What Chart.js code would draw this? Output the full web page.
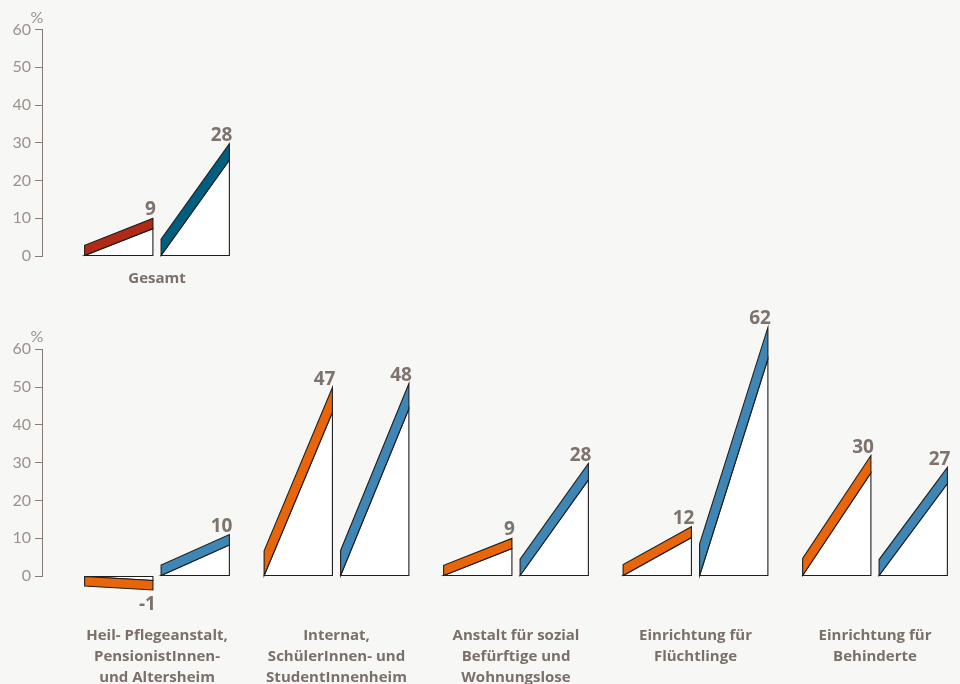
<!DOCTYPE html>
<html><head><meta charset="utf-8">
<script src="https://cdn.jsdelivr.net/npm/chart.js@4"></script>
<style>
html,body{margin:0;padding:0;background:#f7f7f5;overflow:hidden;width:960px;height:684px}
.box{position:absolute;left:0;width:960px}
</style></head><body>
<div class="box" style="top:0;height:300px"><canvas id="c1"></canvas></div>
<div class="box" style="top:300px;height:384px"><canvas id="c2"></canvas></div>
<script>
// ---- data ----
const topCategories = ['Gesamt'];
const topSeriesA = [9];
const topSeriesB = [28];

const categories = [
  ['Heil- Pflegeanstalt,', 'PensionistInnen-', 'und Altersheim'],
  ['Internat,', 'SchülerInnen- und', 'StudentInnenheim'],
  ['Anstalt für sozial', 'Befürftige und', 'Wohnungslose'],
  ['Einrichtung für', 'Flüchtlinge'],
  ['Einrichtung für', 'Behinderte']
];
const seriesA = [-1, 47, 9, 12, 30];
const seriesB = [10, 48, 28, 62, 27];
const yTicks = [0, 10, 20, 30, 40, 50, 60];
const unitLabel = '%';

// ---- styles ----
const FONT = 'Lato, "Open Sans", sans-serif';
const BFONT = '"Open Sans", Lato, sans-serif';
const BAND = 9.5;
const X_MIN = -0.6407, X_MAX = 4.4735;
const slotIdx = [0, 1, 2, 3, 4];

const wedgePlugin = {
  id: 'wedges',
  afterDatasetsDraw(chart) {
    const ctx = chart.ctx;
    ctx.save();
    ctx.lineJoin = 'miter';
    chart.data.datasets.forEach((ds, di) => {
      const meta = chart.getDatasetMeta(di);
      meta.data.forEach((el, i) => {
        const p = el.getProps(['x', 'width', 'base', 'y'], true);
        const w = p.width, L = p.x - w / 2, R = p.x + w / 2, base = p.base;
        const V = base - p.y;
        let h, s;
        if (V >= 0) {
          h = V;
          for (let k = 0; k < 10; k++) h = V - 1.5 - BAND / 2 * Math.sqrt(1 + (h / w) ** 2);
          s = 1;
        } else {
          h = V * 1.2;
          s = -1;
        }
        const d = BAND * Math.sqrt(1 + (h / w) ** 2);
        ctx.lineWidth = 1.1;
        ctx.strokeStyle = '#1e1e1e';
        // white triangle
        ctx.beginPath();
        ctx.moveTo(L, base); ctx.lineTo(R, base); ctx.lineTo(R, base - h); ctx.closePath();
        ctx.fillStyle = '#ffffff'; ctx.fill(); ctx.stroke();
        // colored band
        ctx.beginPath();
        ctx.moveTo(L, base); ctx.lineTo(R, base - h); ctx.lineTo(R, base - h - s * d); ctx.lineTo(L, base - s * d); ctx.closePath();
        ctx.fillStyle = ds.bandColor; ctx.fill(); ctx.stroke();
        // value label
        ctx.fillStyle = '#7d726c';
        ctx.font = 'bold 19px ' + BFONT;
        ctx.textAlign = 'right';
        ctx.textBaseline = 'alphabetic';
        const v = ds.data[i].y;
        if (s > 0) ctx.fillText(String(v), R + 3, base - h - d - 3);
        else ctx.fillText(String(v), R + 3, base - h + d + 20);
      });
    });
    // unit label
    const ys = chart.scales.y;
    ctx.fillStyle = '#9b918c';
    ctx.font = '16px ' + FONT;
    ctx.textAlign = 'center';
    ctx.textBaseline = 'middle';
    ctx.fillText(unitLabel, ys.right - 5, chart.chartArea.top - 12);
    ctx.restore();
  }
};

function makeChart(id, cats, a, b, colA, colB, padTop, xHeight, labelPad) {
  return new Chart(document.getElementById(id), {
    type: 'bar',
    data: {
      datasets: [
        { data: a.map((v, i) => ({ x: i, y: v })), backgroundColor: 'rgba(0,0,0,0)', borderWidth: 0, bandColor: colA },
        { data: b.map((v, i) => ({ x: i, y: v })), backgroundColor: 'rgba(0,0,0,0)', borderWidth: 0, bandColor: colB }
      ]
    },
    options: {
      responsive: true,
      maintainAspectRatio: false,
      animation: false,
      categoryPercentage: 0.852,
      barPercentage: 0.893,
      layout: { padding: { top: padTop, left: 0, right: 0, bottom: 0 } },
      plugins: { legend: { display: false }, tooltip: { enabled: false } },
      scales: {
        x: {
          type: 'linear', min: X_MIN, max: X_MAX, offset: false,
          grid: { display: false, drawTicks: false },
          border: { display: false },
          afterBuildTicks(s) { s.ticks = slotIdx.map(v => ({ value: v })); },
          afterFit(s) { s.height = xHeight; s.paddingLeft = 0; s.paddingRight = 0; },
          ticks: {
            autoSkip: false, maxRotation: 0, minRotation: 0, padding: labelPad,
            color: '#7a6f69',
            font: { family: BFONT, size: 15, weight: 'bold', lineHeight: 21 / 15 },
            callback: (v) => cats[v] !== undefined ? cats[v] : ''
          }
        },
        y: {
          min: 0, max: 60,
          afterBuildTicks(s) { s.ticks = yTicks.map(v => ({ value: v })); },
          afterFit(s) { s.width = 42; },
          ticks: { color: '#9b918c', font: { family: FONT, size: 16 }, padding: 4 },
          grid: { drawOnChartArea: false, drawTicks: true, tickLength: 7, color: '#8a7d76', lineWidth: 1 },
          border: { display: true, color: '#8a7d76', width: 1 }
        }
      }
    },
    plugins: [wedgePlugin]
  });
}

makeChart('c1', topCategories, topSeriesA, topSeriesB, '#b02a17', '#005f7f', 29.5, 44, 12.5);
makeChart('c2', categories, seriesA, seriesB, '#e8650a', '#3f86b5', 49.3, 108, 49);
</script>
</body></html>
